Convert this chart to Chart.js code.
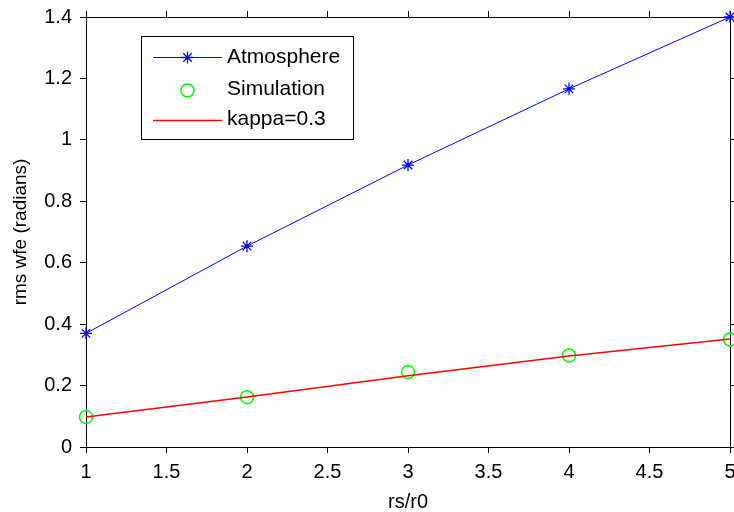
<!DOCTYPE html>
<html>
<head>
<meta charset="utf-8">
<script src="https://cdn.jsdelivr.net/npm/chart.js@4/dist/chart.umd.min.js"></script>
<style>
html,body{margin:0;padding:0;background:#fff;}
canvas{display:block;}
</style>
</head>
<body>
<canvas id="c" width="734" height="512"></canvas>
<script>
const xValues = [1, 2, 3, 4, 5];
const atmosphere = [0.370, 0.654, 0.918, 1.166, 1.400];
const simulation = [0.098, 0.162, 0.244, 0.298, 0.350];
const kappaLine = [0.098, 0.163, 0.232, 0.296, 0.352];
const xTicks = [1, 1.5, 2, 2.5, 3, 3.5, 4, 4.5, 5];
const xTickLabels = ['1', '1.5', '2', '2.5', '3', '3.5', '4', '4.5', '5'];
const yTicks = [0, 0.2, 0.4, 0.6, 0.8, 1, 1.2, 1.4];
const yTickLabels = ['0', '0.2', '0.4', '0.6', '0.8', '1', '1.2', '1.4'];
const seriesLabels = ['Atmosphere', 'Simulation', 'kappa=0.3'];
const xTitle = 'rs/r0';
const yTitle = 'rms wfe (radians)';

const FONT = "'Liberation Sans', Arial, sans-serif";
const pts = arr => arr.map((v, i) => ({x: xValues[i], y: v}));

const gridOpts = {display: true, drawOnChartArea: false, drawTicks: true, tickLength: 6, color: '#000', lineWidth: 1};
const borderOpts = {display: true, color: '#000', width: 1};
const setTicks = list => (scale => { scale.ticks = list.map(v => ({value: v})); });
const fitTo = (prop, size) => (s => {
  s[prop] = size;
  s.paddingLeft = 0; s.paddingRight = 0; s.paddingTop = 0; s.paddingBottom = 0;
});

const legendPlugin = {
  id: 'boxLegend',
  afterDatasetsDraw(chart) {
    const ctx = chart.ctx;
    ctx.save();
    ctx.fillStyle = '#fff';
    ctx.fillRect(141, 36, 212, 103);
    ctx.strokeStyle = '#000';
    ctx.lineWidth = 1;
    ctx.strokeRect(141.5, 36.5, 212, 103);
    const rows = [57, 89.5, 119.5];
    chart.data.datasets.forEach((ds, i) => {
      const y = rows[i];
      const cy = Math.round(y) + 0.5;
      if (ds.showLine !== false) {
        ctx.strokeStyle = ds.borderColor;
        ctx.lineWidth = ds.borderWidth;
        ctx.beginPath();
        ctx.moveTo(153, cy);
        ctx.lineTo(222, cy);
        ctx.stroke();
      }
      if (ds.pointRadius > 0) {
        ctx.strokeStyle = ds.pointBorderColor;
        ctx.fillStyle = ds.pointBackgroundColor;
        ctx.lineWidth = ds.pointBorderWidth;
        Chart.helpers.drawPoint(ctx, {
          pointStyle: ds.pointStyle, radius: ds.pointRadius, rotation: 0,
          borderWidth: ds.pointBorderWidth
        }, 187.5, cy);
      }
      ctx.fillStyle = '#000';
      ctx.font = "21px " + FONT;
      ctx.textBaseline = 'middle';
      ctx.textAlign = 'left';
      ctx.fillText(ds.label, 227, y);
    });
    ctx.restore();
  }
};

const chart = new Chart(document.getElementById('c'), {
  type: 'line',
  data: {
    datasets: [
      {
        label: seriesLabels[0], data: pts(atmosphere),
        borderColor: '#0000ff', backgroundColor: '#0000ff', borderWidth: 1,
        pointStyle: 'star', pointRadius: 6, pointBorderColor: '#0000ff', pointBackgroundColor: '#0000ff', pointBorderWidth: 1.3,
        order: 2, clip: false
      },
      {
        label: seriesLabels[1], data: pts(simulation), showLine: false,
        borderColor: '#00ff00', backgroundColor: 'rgba(0,0,0,0)', borderWidth: 1.5,
        pointStyle: 'circle', pointRadius: 6.5, pointBorderColor: '#00ff00', pointBackgroundColor: 'rgba(0,0,0,0)', pointBorderWidth: 1.5,
        order: 1, clip: false
      },
      {
        label: seriesLabels[2], data: pts(kappaLine),
        borderColor: '#ff0000', backgroundColor: '#ff0000', borderWidth: 1.5,
        pointRadius: 0, order: 0, clip: false
      }
    ]
  },
  options: {
    responsive: false,
    animation: false,
    events: [],
    layout: {padding: 0, autoPadding: false},
    plugins: {legend: {display: false}, tooltip: {enabled: false}},
    scales: {
      x: {
        type: 'linear', position: 'bottom', min: 1, max: 5,
        afterBuildTicks: setTicks(xTicks),
        afterFit: fitTo('height', 65),
        grid: gridOpts, border: borderOpts,
        ticks: {color: '#000', font: {family: FONT, size: 20}, padding: 7, maxRotation: 0, autoSkip: false,
                callback: (v, i) => xTickLabels[i]},
        title: {display: true, text: xTitle, color: '#000', font: {family: FONT, size: 20, lineHeight: 1}, padding: {top: 0, bottom: 0}}
      },
      y: {
        type: 'linear', position: 'left', min: 0, max: 1.4,
        afterBuildTicks: setTicks(yTicks),
        afterFit: fitTo('width', 86),
        grid: gridOpts, border: borderOpts,
        ticks: {color: '#000', font: {family: FONT, size: 20}, padding: 8, autoSkip: false,
                callback: (v, i) => yTickLabels[i]},
        title: {display: true, text: yTitle, color: '#000', font: {family: FONT, size: 19, lineHeight: 1}, padding: {top: 11, bottom: 0}}
      },
      x2: {
        type: 'linear', position: 'top', min: 1, max: 5,
        afterBuildTicks: setTicks(xTicks),
        afterFit: fitTo('height', 17),
        grid: gridOpts, border: borderOpts,
        ticks: {display: false}
      },
      y2: {
        type: 'linear', position: 'right', min: 0, max: 1.4,
        afterBuildTicks: setTicks(yTicks),
        afterFit: fitTo('width', 4),
        grid: gridOpts, border: borderOpts,
        ticks: {display: false}
      }
    }
  },
  plugins: [legendPlugin]
});
</script>
</body>
</html>
